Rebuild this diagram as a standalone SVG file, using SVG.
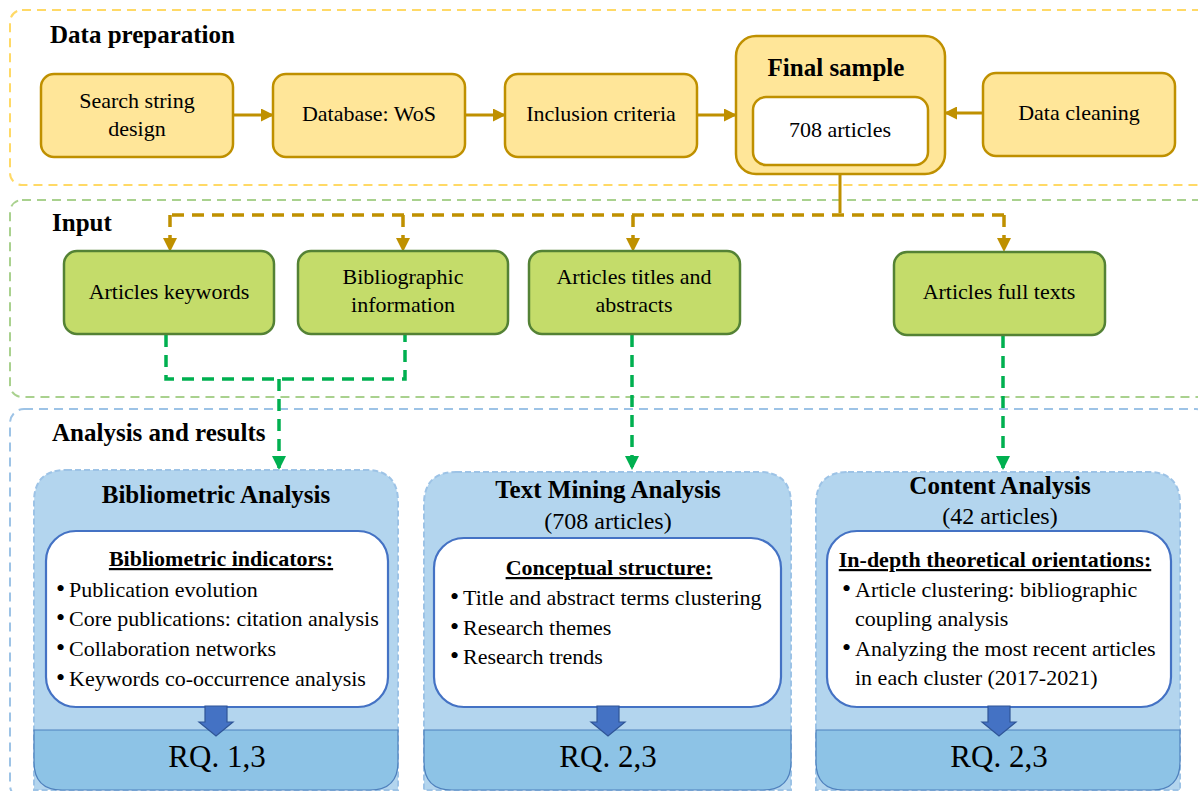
<svg xmlns="http://www.w3.org/2000/svg" width="1198" height="791" viewBox="0 0 1198 791" font-family="'Liberation Serif', 'DejaVu Serif', serif">
<style>
text{font-family:'Liberation Serif','DejaVu Serif',serif;fill:#000}
.sec{fill:none;stroke-width:2;stroke-dasharray:9 6}
.yb{fill:#FFE699;stroke:#BF9000;stroke-width:2.5}
.gb{fill:#C4DC6A;stroke:#548235;stroke-width:2.5}
.t19{font-size:22px}
.b20{font-size:25px;font-weight:bold}
.c{text-anchor:middle}
.gold{stroke:#BF9000;stroke-width:3;fill:none}
.goldd{stroke:#BF9000;stroke-width:3.5;fill:none;stroke-dasharray:12 8}
.grnd{stroke:#00B050;stroke-width:3.5;fill:none;stroke-dasharray:12 8}
.abox{fill:#B3D5EE;stroke:#9DC3E6;stroke-width:2;stroke-dasharray:6 3}
.band{fill:#8DC3E6;stroke:#4F81BD;stroke-width:1.2}
.wbox{fill:#fff;stroke:#4472C4;stroke-width:2.2}
.barrow{fill:#4472C4;stroke:#2F5597;stroke-width:1.2}
.bl{font-size:22px}
.bu{font-size:26px}
.hd{font-size:22px;font-weight:bold;text-decoration:underline;text-anchor:middle}
.rq{font-size:31px}
</style>
<defs>
<marker id="ag" markerWidth="13" markerHeight="13" refX="11" refY="6.5" orient="auto" markerUnits="userSpaceOnUse" viewBox="0 0 13 13"><path d="M0,0 L13,6.5 L0,13 z" fill="#BF9000"/></marker>
<marker id="agd" markerWidth="14" markerHeight="14" refX="12" refY="7" orient="auto" markerUnits="userSpaceOnUse" viewBox="0 0 14 14"><path d="M0,0 L14,7 L0,14 z" fill="#BF9000"/></marker>
<marker id="agr" markerWidth="14" markerHeight="14" refX="12" refY="7" orient="auto" markerUnits="userSpaceOnUse" viewBox="0 0 14 14"><path d="M0,0 L14,7 L0,14 z" fill="#00B050"/></marker>
</defs>
<rect width="1198" height="791" fill="#fff"/>

<!-- sections -->
<g id="sec-data">
<rect class="sec" x="10" y="10" width="1200" height="175" rx="12" stroke="#FFD966"/>
<text x="50" y="43" class="b20">Data preparation</text>
</g>
<g id="sec-input">
<rect class="sec" x="10" y="200" width="1200" height="197" rx="12" stroke="#A9D18E"/>
<text x="52" y="231" class="b20">Input</text>
</g>
<g id="sec-analysis">
<rect class="sec" x="10" y="409" width="1200" height="390" rx="14" stroke="#9DC3E6"/>
<text x="52" y="441" class="b20">Analysis and results</text>
</g>

<!-- connectors -->
<g id="connectors">
<line class="gold" x1="233" y1="115" x2="272" y2="115" marker-end="url(#ag)"/>
<line class="gold" x1="465" y1="115" x2="504" y2="115" marker-end="url(#ag)"/>
<line class="gold" x1="697" y1="115" x2="735" y2="115" marker-end="url(#ag)"/>
<line class="gold" x1="983" y1="113" x2="946" y2="113" marker-end="url(#ag)"/>
<line class="gold" x1="840" y1="174" x2="840" y2="213"/>
<path class="goldd" d="M1004,215 H170"/>
<path class="goldd" d="M170,215 V250" marker-end="url(#agd)"/>
<path class="goldd" d="M403,215 V250" marker-end="url(#agd)"/>
<path class="goldd" d="M633,215 V250" marker-end="url(#agd)"/>
<path class="goldd" d="M1004,215 V250" marker-end="url(#agd)"/>
<path class="grnd" d="M166,335 V379 H405 V335"/>
<path class="grnd" d="M279,379 V468" marker-end="url(#agr)"/>
<path class="grnd" d="M632,335 V468" marker-end="url(#agr)"/>
<path class="grnd" d="M1003,336 V468" marker-end="url(#agr)"/>
</g>

<!-- data preparation nodes -->
<g id="n-search">
<rect class="yb" x="41" y="74" width="192" height="83" rx="13"/>
<text x="137" y="108" class="t19 c">Search string</text>
<text x="137" y="136" class="t19 c">design</text>
</g>
<g id="n-database">
<rect class="yb" x="273" y="74" width="192" height="83" rx="13"/>
<text x="369" y="121" class="t19 c">Database: WoS</text>
</g>
<g id="n-inclusion">
<rect class="yb" x="505" y="74" width="192" height="83" rx="13"/>
<text x="601" y="121" class="t19 c">Inclusion criteria</text>
</g>
<g id="n-final">
<rect class="yb" x="736" y="36" width="209" height="138" rx="20"/>
<text x="836" y="76" class="b20 c">Final sample</text>
<rect x="753" y="97" width="175" height="68" rx="13" fill="#fff" stroke="#BF9000" stroke-width="2.5"/>
<text x="840" y="137" class="t19 c">708 articles</text>
</g>
<g id="n-cleaning">
<rect class="yb" x="983" y="73" width="192" height="83" rx="13"/>
<text x="1079" y="120" class="t19 c">Data cleaning</text>
</g>

<!-- input nodes -->
<g id="n-keywords">
<rect class="gb" x="64" y="251" width="210" height="83" rx="13"/>
<text x="169" y="299" class="t19 c">Articles keywords</text>
</g>
<g id="n-biblio">
<rect class="gb" x="298" y="251" width="210" height="83" rx="13"/>
<text x="403" y="284" class="t19 c">Bibliographic</text>
<text x="403" y="312" class="t19 c">information</text>
</g>
<g id="n-titles">
<rect class="gb" x="529" y="251" width="211" height="83" rx="13"/>
<text x="634" y="284" class="t19 c">Articles titles and</text>
<text x="634" y="312" class="t19 c">abstracts</text>
</g>
<g id="n-fulltexts">
<rect class="gb" x="894" y="252" width="211" height="83" rx="13"/>
<text x="999" y="299" class="t19 c">Articles full texts</text>
</g>

<!-- analysis nodes -->
<g id="n-bibliometric">
<path class="abox" d="M66,470 H366 Q398,470 398,502 V790 H34 V502 Q34,470 66,470 Z"/>
<path class="band" d="M34,730 H398 V762 Q398,790 370,790 H62 Q34,790 34,762 Z"/>
<text x="216" y="503" class="b20 c">Bibliometric Analysis</text>
<rect class="wbox" x="46" y="531" width="342" height="176" rx="30"/>
<text x="221" y="566" class="hd">Bibliometric indicators:</text>
<text x="56" y="597" class="bl"><tspan class="bu">•</tspan><tspan x="69">Publication evolution</tspan></text>
<text x="56" y="626" class="bl"><tspan class="bu">•</tspan><tspan x="69">Core publications: citation analysis</tspan></text>
<text x="56" y="656" class="bl"><tspan class="bu">•</tspan><tspan x="69">Collaboration networks</tspan></text>
<text x="56" y="686" class="bl"><tspan class="bu">•</tspan><tspan x="69">Keywords co-occurrence analysis</tspan></text>
<path class="barrow" d="M205,706 H227 V722 H233 L216,736 L199,722 H205 Z"/>
<text x="217" y="767" class="rq c">RQ. 1,3</text>
</g>
<g id="n-textmining">
<path class="abox" d="M456,472 H759 Q791,472 791,504 V790 H424 V504 Q424,472 456,472 Z"/>
<path class="band" d="M424,730 H791 V762 Q791,790 763,790 H452 Q424,790 424,762 Z"/>
<text x="608" y="498" class="b20 c">Text Mining Analysis</text>
<text x="608" y="529" class="c" font-size="24">(708 articles)</text>
<rect class="wbox" x="434" y="538" width="347" height="169" rx="30"/>
<text x="609" y="575" class="hd">Conceptual structure:</text>
<text x="450" y="605" class="bl"><tspan class="bu">•</tspan><tspan x="463">Title and abstract terms clustering</tspan></text>
<text x="450" y="635" class="bl"><tspan class="bu">•</tspan><tspan x="463">Research themes</tspan></text>
<text x="450" y="664" class="bl"><tspan class="bu">•</tspan><tspan x="463">Research trends</tspan></text>
<path class="barrow" d="M597,706 H619 V722 H625 L608,736 L591,722 H597 Z"/>
<text x="608" y="767" class="rq c">RQ. 2,3</text>
</g>
<g id="n-content">
<path class="abox" d="M848,472 H1148 Q1180,472 1180,504 V790 H816 V504 Q816,472 848,472 Z"/>
<path class="band" d="M816,730 H1180 V762 Q1180,790 1152,790 H844 Q816,790 816,762 Z"/>
<text x="1000" y="494" class="b20 c">Content Analysis</text>
<text x="1000" y="524" class="c" font-size="24">(42 articles)</text>
<rect class="wbox" x="827" y="531" width="344" height="176" rx="30"/>
<text x="995" y="567" class="hd" font-size="24">In-depth theoretical orientations:</text>
<text x="842" y="597" class="bl"><tspan class="bu">•</tspan><tspan x="855">Article clustering: bibliographic</tspan></text>
<text x="855" y="626" class="bl">coupling analysis</text>
<text x="842" y="656" class="bl"><tspan class="bu">•</tspan><tspan x="855">Analyzing the most recent articles</tspan></text>
<text x="855" y="685" class="bl">in each cluster (2017-2021)</text>
<path class="barrow" d="M988,706 H1010 V722 H1016 L999,736 L982,722 H988 Z"/>
<text x="999" y="767" class="rq c">RQ. 2,3</text>
</g>
</svg>
